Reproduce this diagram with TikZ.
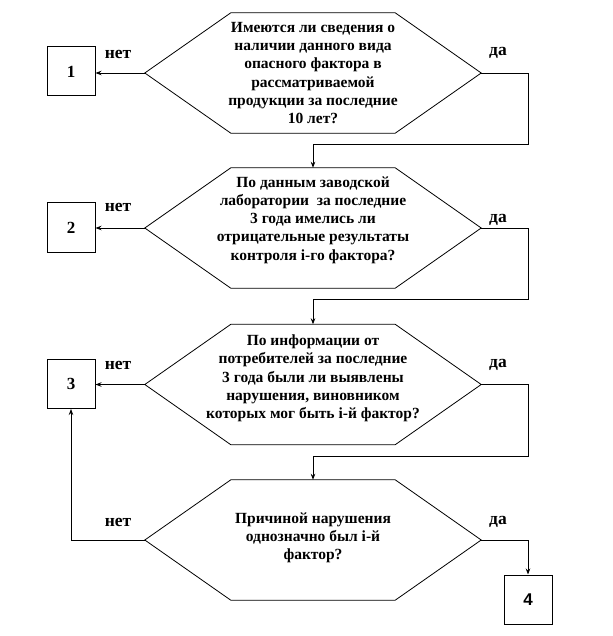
\documentclass[tikz,border=0pt]{standalone}
\usepackage{fontspec}
\setmainfont{Liberation Serif}
\setsansfont{Liberation Sans}
\usetikzlibrary{arrows.meta,positioning}

\begin{document}
\begin{tikzpicture}[x=1pt,y=-1pt,
    question/.style={minimum width=336pt, minimum height=120pt, inner sep=0pt},
    qtext/.style={align=center, inner sep=0pt, font=\bfseries\fontsize{15.5}{18.3}\selectfont},
    numbox/.style={draw, line width=1pt, minimum width=48pt, minimum height=49pt, inner sep=0pt, font=\bfseries\fontsize{17}{20}\selectfont},
    answer/.style={inner sep=0pt, font=\bfseries\fontsize{17.5}{20}\selectfont},
    flow/.style={line width=0.8pt, -{Stealth[length=6pt,width=4.5pt]}}]

    \useasboundingbox (0,0) rectangle (612,636);

    % questions
    \node[question] (q1) at (313,73) {};
    \node[question] (q2) at (313,228) {};
    \node[question] (q3) at (313,384.5) {};
    \node[question] (q4) at (313,540) {};
    \foreach \q in {q1,q2,q3,q4}
      \draw[line width=0.8pt] (\q.west) -- ([xshift=86pt]\q.north west) -- ([xshift=-86pt]\q.north east)
            -- (\q.east) -- ([xshift=-86pt]\q.south east) -- ([xshift=86pt]\q.south west) -- cycle;

    \node[qtext] (t1) at (q1) {Имеются ли сведения о\\наличии данного вида\\опасного фактора в\\рассматриваемой\\продукции за последние\\10 лет?};
    \node[qtext] (t2) at ([yshift=8pt]q2.center) {По данным заводской\\лаборатории\ \ за последние\\3 года имелись ли\\отрицательные результаты\\контроля i-го фактора?};
    \node[qtext] (t3) at ([yshift=6pt]q3.center) {По информации от\\потребителей за последние\\3 года были ли выявлены\\нарушения, виновником\\которых мог быть i-й фактор?};
    \node[qtext] (t4) at ([yshift=2pt]q4.center) {Причиной нарушения\\однозначно был i-й\\фактор?};

    % outcomes
    \node[numbox] (b1) at (71,71.5) {1};
    \node[numbox] (b2) at (71,227.5) {2};
    \node[numbox] (b3) at (71,384) {3};
    \node[numbox, font=\sffamily\bfseries\fontsize{17}{20}\selectfont] (b4) at (528,599.5) {4};

    % answers
    \foreach \i/\y in {1/54, 2/207, 3/365, 4/522} {
      \node[answer] (no\i) at (118,\y) {нет};
    }
    \foreach \i/\y in {1/53, 2/220, 3/365, 4/522} {
      \node[answer] (yes\i) at (498,\y) {да};
    }

    % bends
    \coordinate (r1) at (528,144);
    \coordinate (r2) at (528,299);
    \coordinate (r3) at (528,456);

    % connectors
    \draw[flow] (q1.west) -- (q1.west -| b1.east);
    \draw[flow] (q2.west) -- (q2.west -| b2.east);
    \draw[flow] (q3.west) -- (q3.west -| b3.east);
    \draw[flow] (q1.east) -| (r1) -| (q2.north);
    \draw[flow] (q2.east) -| (r2) -| (q3.north);
    \draw[flow] (q3.east) -| (r3) -| (q4.north);
    \draw[flow] (q4.west) -| (b3.south);
    \draw[flow] (q4.east) -| (b4.north);
\end{tikzpicture}
\end{document}
